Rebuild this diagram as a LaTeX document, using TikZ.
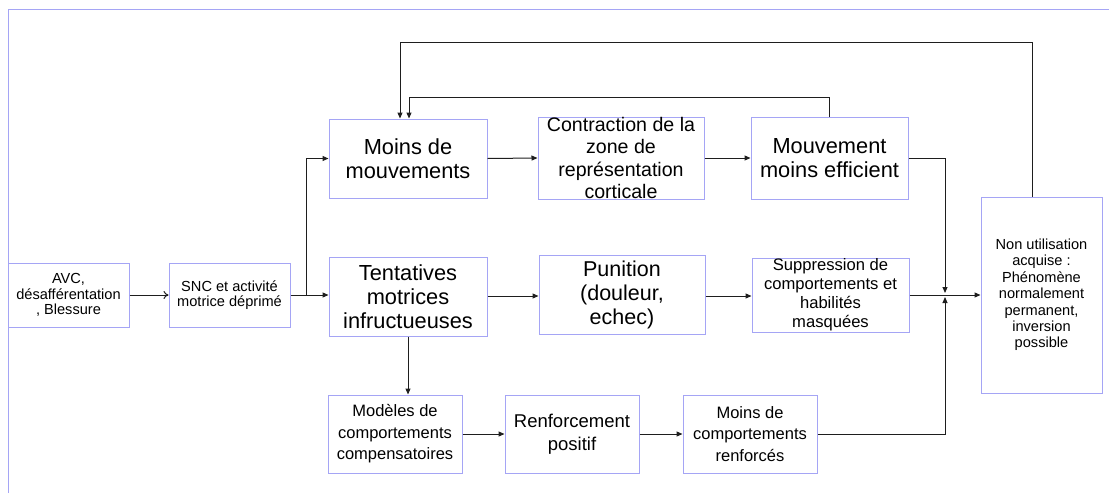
\documentclass[tikz,border=0pt]{standalone}
\usepackage{fontspec}
\setmainfont{Liberation Sans}
\usetikzlibrary{arrows.meta}
\definecolor{boxc}{RGB}{165,165,245}
\definecolor{linec}{RGB}{30,30,30}
\tikzset{
  box/.style={draw=boxc, line width=1pt, fill=white, align=center, inner sep=0pt},
  arr/.style={draw=linec, line width=1pt, -{Triangle[length=6pt,width=5pt]}},
  ln/.style={draw=linec, line width=1pt},
  fs/.style={font=\fontsize{14.6}{15.5}\selectfont},
  fl/.style={font=\fontsize{21.8}{23.5}\selectfont},
}
\begin{document}
\begin{tikzpicture}[x=1pt,y=-1pt]
\useasboundingbox (0,0) rectangle (1109,493);
\draw[boxc, line width=1pt] (8,493) -- (8,9) -- (1109,9);

\node[box, fs, minimum width=121pt, minimum height=64pt] (avc) at (68.5,295) {AVC,\\désafférentation\\, Blessure};
\node[box, fs, minimum width=121pt, minimum height=64pt] (snc) at (229.5,295) {SNC et activité\\motrice déprimé};
\node[box, fl, minimum width=158pt, minimum height=79pt] (mm) at (408,158.5) {Moins de\\mouvements};
\node[box, font=\fontsize{19.6}{22.5}\selectfont, minimum width=166pt, minimum height=82pt] (con) at (621,158) {Contraction de la\\zone de\\représentation\\corticale};
\node[box, fl, minimum width=157pt, minimum height=82pt] (mme) at (829.5,158) {Mouvement\\moins efficient};
\node[box, font=\fontsize{14.6}{16.4}\selectfont, minimum width=121pt, minimum height=196pt] (non) at (1041.5,295) {Non utilisation\\acquise :\\Phénomène\\normalement\\permanent,\\inversion\\possible};
\node[box, font=\fontsize{21.8}{24}\selectfont, minimum width=158pt, minimum height=79pt] (ten) at (408,296.5) {Tentatives\\motrices\\infructueuses};
\node[box, font=\fontsize{21.5}{24}\selectfont, minimum width=166pt, minimum height=79pt] (pun) at (622,294.5) {Punition\\(douleur,\\echec)};
\node[box, font=\fontsize{16.6}{19.2}\selectfont, minimum width=157pt, minimum height=74pt, text depth=4pt] (sup) at (830.5,295) {Suppression de\\comportements et\\habilités\\masquées};
\node[box, font=\fontsize{16.5}{21.5}\selectfont, minimum width=134pt, minimum height=78pt] (mod) at (395,434) {Modèles de\\comportements\\compensatoires};
\node[box, font=\fontsize{18.5}{23}\selectfont, minimum width=134pt, minimum height=78pt] (ren) at (572,434) {Renforcement\\positif};
\node[box, font=\fontsize{16.5}{21.5}\selectfont, minimum width=134pt, minimum height=78pt] (mcr) at (750,434) {Moins de\\comportements\\renforcés};

\coordinate (j1) at (306,295);
\coordinate (jd) at (945,293);
\coordinate (ju) at (945,297);
\coordinate (o1) at (1032,42);
\coordinate (o2) at (400,42);
\coordinate (i2) at (409,97);
\coordinate (ra) at (0,296);
\coordinate (rb) at (0,295);

\draw[ln, -{To[length=5pt,width=8pt]}] (avc.east) -- (snc.west);
\draw[arr] (snc.east) -- (snc.east -| ten.west);
\draw[arr] (j1) |- (mm.west);
\draw[arr] (mm.east) -- (con.west);
\draw[arr] (con.east) -- (mme.west);
\draw[arr] (ten.east |- ra) -- (pun.west |- ra);
\draw[arr] (pun.east |- ra) -- (sup.west |- ra);
\draw[arr] (mme.east) -| (jd);
\draw[arr] (sup.east |- rb) -- (non.west |- rb);
\draw[arr] (mcr.east) -| (ju);
\draw[arr] (non.north -| o1) -- (o1) -- (o2) -- (o2 |- mm.north);
\draw[arr] (mme.north) |- (i2) -- (i2 |- mm.north);
\draw[arr] (ten.south) -- (ten.south |- mod.north);
\draw[arr] (mod.east) -- (ren.west);
\draw[arr] (ren.east) -- (mcr.west);
\end{tikzpicture}
\end{document}
